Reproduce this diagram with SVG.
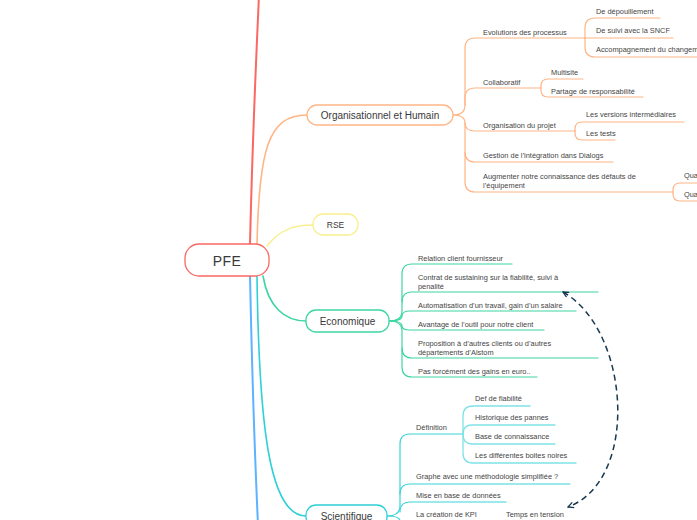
<svg xmlns="http://www.w3.org/2000/svg" width="697" height="520" viewBox="0 0 697 520">
<style>
  text { font-family: "Liberation Sans", Arial, sans-serif; fill: #3a3a3a; }
  .node { font-size: 10px; text-anchor: middle; }
  .leaf { font-size: 7.4px; fill: #444; }
  .c { fill: none; stroke-linecap: round; stroke-linejoin: round; }
  .org { stroke: #ffb585; stroke-width: 1.2; }
  .eco { stroke: #3dd6a3; stroke-width: 1.2; }
  .sci { stroke: #3ad4da; stroke-width: 1.2; }
  .sci2 { stroke: #7fe2e6; stroke-width: 1.3; }
  .box { fill: #ffffff; stroke-width: 1.3; }
</style>
<defs>
  <marker id="arr" viewBox="0 0 10 10" refX="9" refY="5" markerWidth="7" markerHeight="7" orient="auto-start-reverse" markerUnits="userSpaceOnUse">
    <path d="M1,1 L9,5 L1,9" fill="none" stroke="#17384f" stroke-width="1.8"/>
  </marker>
</defs>
<rect width="697" height="520" fill="#ffffff"/>

<g id="connectors">
  <!-- main branches -->
  <path class="c" d="M250,244 C252,160 256,60 259,-5" stroke="#fb6763" stroke-width="2"/>
  <path class="c" d="M250,276 C252,370 255,460 258,525" stroke="#5cb3ff" stroke-width="2"/>
  <path class="c" d="M257,244 C259,150 268,115 307,115" stroke="#ffb585" stroke-width="1.6"/>
  <path class="c" d="M267,246 C280,229 295,225 313,225" stroke="#f8f08e" stroke-width="1.6"/>
  <path class="c" d="M263,276 C268,306 284,321 306,321" stroke="#3dd6a3" stroke-width="1.6"/>
  <path class="c" d="M257,276 C259,430 270,516 306,516" stroke="#2fd0d6" stroke-width="1.6"/>

  <!-- Organisationnel et Humain -->
  <path class="c org" d="M453,115 Q465,115 465,105 V48 Q465,38 475,38 H585"/>
  <path class="c org" d="M465,105 V98 Q465,88 475,88 H541"/>
  <path class="c org" d="M453,115 Q465,115 465,123 Q465,131 475,131 H575"/>
  <path class="c org" d="M465,123 V152 Q465,162 475,162 H613"/>
  <path class="c org" d="M465,152 V182 Q465,192 475,192 H673"/>
  <!-- Evolutions children -->
  <path class="c org" d="M585,38 V28 Q585,18 595,18 H660"/>
  <path class="c org" d="M585,38 H673"/>
  <path class="c org" d="M585,38 V47 Q585,57 595,57 H700"/>
  <!-- Collaboratif children -->
  <path class="c org" d="M541,88 V86 Q541,79 548,79 H583"/>
  <path class="c org" d="M541,88 V90 Q541,97 548,97 H643"/>
  <!-- Organisation du projet children -->
  <path class="c org" d="M575,131 V129 Q575,122 582,122 H684"/>
  <path class="c org" d="M575,131 V133 Q575,140 582,140 H615"/>
  <!-- Augmenter children -->
  <path class="c org" d="M673,192 V190 Q673,183 680,183 H700"/>
  <path class="c org" d="M673,192 V194 Q673,201 680,201 H700"/>

  <!-- Economique -->
  <path class="c eco" d="M389,321 Q402,321 402,311 V274 Q402,264 412,264 H512"/>
  <path class="c eco" d="M402,302 Q402,292 412,292 H598"/>
  <path class="c eco" d="M389,321 Q402,321 402,316 Q402,311 410,311 H576"/>
  <path class="c eco" d="M389,321 Q402,321 402,326 Q402,330 410,330 H544"/>
  <path class="c eco" d="M389,321 Q402,321 402,331 V348 Q402,358 412,358 H598"/>
  <path class="c eco" d="M402,348 V367 Q402,377 412,377 H537"/>

  <!-- Scientifique -->
  <path class="c sci" d="M387,516 Q400,516 400,506 V444 Q400,434 410,434 H463"/>
  <path class="c sci" d="M400,494 Q400,484 410,484 H570"/>
  <path class="c sci" d="M400,512 Q400,502 410,502 H506"/>
  <path class="c sci" d="M387,516 Q400,516 400,521 Q400,526 410,526 H497"/>
  <!-- Définition children -->
  <path class="c sci2" d="M463,434 V416 Q463,406 473,406 H530"/>
  <path class="c sci2" d="M463,434 Q463,425 472,425 H555"/>
  <path class="c sci2" d="M463,434 Q463,444 472,444 H555"/>
  <path class="c sci2" d="M463,434 V453 Q463,463 473,463 H576"/>

  <!-- dashed relation -->
  <path d="M563,292 C630,330 640,480 568,507" fill="none" stroke="#17384f" stroke-width="1.5" stroke-dasharray="6,4" marker-start="url(#arr)" marker-end="url(#arr)"/>
</g>

<g id="node-pfe">
  <rect x="185" y="244" width="84" height="32" rx="14" class="box" stroke="#fb6763" stroke-width="2.4"/>
  <text x="227" y="265.5" class="node" style="font-size:14px; letter-spacing:0.5px">PFE</text>
</g>
<g id="node-org">
  <rect x="307" y="105" width="146" height="20" rx="10" class="box" stroke="#ffb585"/>
  <text x="380" y="118.5" class="node">Organisationnel et Humain</text>
</g>
<g id="node-rse">
  <rect x="313" y="214" width="45" height="21" rx="10" class="box" stroke="#f8f08e"/>
  <text x="335.5" y="227.5" class="node" style="font-size:8.5px">RSE</text>
</g>
<g id="node-eco">
  <rect x="306" y="310" width="83" height="22" rx="10" class="box" stroke="#3dd6a3"/>
  <text x="347.5" y="324.5" class="node">Economique</text>
</g>
<g id="node-sci">
  <rect x="306" y="505" width="81" height="22" rx="10" class="box" stroke="#2fd0d6"/>
  <text x="346.5" y="519.5" class="node">Scientifique</text>
</g>

<g id="org-children">
  <text x="483" y="34.5" class="leaf">Evolutions des processus</text>
  <text x="596" y="14" class="leaf">De dépouillement</text>
  <text x="596" y="32.5" class="leaf">De suivi avec la SNCF</text>
  <text x="596" y="51.5" class="leaf">Accompagnement du changement</text>
  <text x="483" y="84.5" class="leaf">Collaboratif</text>
  <text x="551" y="74.5" class="leaf">Multisite</text>
  <text x="551" y="93.5" class="leaf">Partage de responsabilité</text>
  <text x="483" y="127.5" class="leaf">Organisation du projet</text>
  <text x="586" y="116.5" class="leaf">Les versions intermédiaires</text>
  <text x="586" y="135.5" class="leaf">Les tests</text>
  <text x="483" y="157.5" class="leaf">Gestion de l’intégration dans Dialogs</text>
  <text x="483" y="178.5" class="leaf">Augmenter notre connaissance des défauts de</text>
  <text x="483" y="187.5" class="leaf">l’équipement</text>
  <text x="684" y="177.5" class="leaf">Qua</text>
  <text x="684" y="196.5" class="leaf">Qua</text>
</g>

<g id="eco-children">
  <text x="418" y="260.5" class="leaf">Relation client fournisseur</text>
  <text x="418" y="279.5" class="leaf">Contrat de sustaining sur la fiabilité, suivi à</text>
  <text x="418" y="288.5" class="leaf">penalité</text>
  <text x="418" y="307.5" class="leaf">Automatisation d’un travail, gain d’un salaire</text>
  <text x="418" y="326.5" class="leaf">Avantage de l’outil pour notre client</text>
  <text x="418" y="345.5" class="leaf">Proposition à d’autres clients ou d’autres</text>
  <text x="418" y="354.5" class="leaf">départements d’Alstom</text>
  <text x="418" y="373.5" class="leaf">Pas forcément des gains en euro..</text>
</g>

<g id="sci-children">
  <text x="416" y="429.5" class="leaf">Définition</text>
  <text x="475" y="400.5" class="leaf">Def de fiabilité</text>
  <text x="475" y="419.5" class="leaf">Historique des pannes</text>
  <text x="475" y="439" class="leaf">Base de connaissance</text>
  <text x="475" y="458" class="leaf">Les différentes boites noires</text>
  <text x="416" y="478.5" class="leaf">Graphe avec une méthodologie simplifiée ?</text>
  <text x="416" y="497.5" class="leaf">Mise en base de données</text>
  <text x="416" y="516.5" class="leaf">La création de KPI</text>
  <text x="506" y="516.5" class="leaf">Temps en tension</text>
</g>
</svg>
